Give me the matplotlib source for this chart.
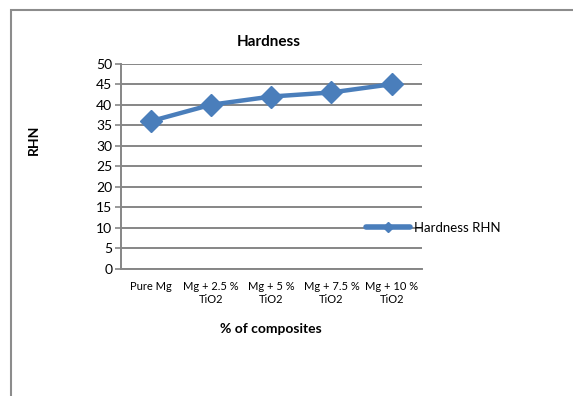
import matplotlib
matplotlib.use("Agg")
import matplotlib.pyplot as plt
from matplotlib.patches import Rectangle

categories = ["Pure Mg", "Mg + 2.5 %\nTiO2", "Mg + 5 %\nTiO2", "Mg + 7.5 %\nTiO2", "Mg + 10 %\nTiO2"]
hardness = [36, 40, 42, 43, 45]
y_ticks = [0, 5, 10, 15, 20, 25, 30, 35, 40, 45, 50]

plt.rcParams['font.family'] = ['Lato', 'DejaVu Sans']

W, H = 573, 396
fig = plt.figure(figsize=(W / 100, H / 100), dpi=100)
fig.patch.set_facecolor("white")

# chart frame
fig.patches.append(Rectangle((11 / W, -0.1), 1.2, 1 - 10 / H + 0.1, transform=fig.transFigure,
                             fill=False, edgecolor="#8c8c8c", linewidth=1.5))

left, right = 120.7 / W, 421.7 / W
bottom, top = 1 - 269 / H, 1 - 63.7 / H
ax = fig.add_axes([left, bottom, right - left, top - bottom])

grid_c = "#868686"
blue = "#4a7ebb"
x = list(range(len(categories)))
ax.plot(x, hardness, color=blue, linewidth=3.2, marker="D", markersize=11,
        markerfacecolor=blue, markeredgecolor=blue, label="Hardness RHN", zorder=3, clip_on=False)

ax.set_xlim(-0.5, len(categories) - 0.5)
ax.set_ylim(0, 50)
ax.set_yticks(y_ticks)
ax.set_yticklabels([str(v) for v in y_ticks], fontsize=10)
ax.set_xticks(x)
ax.set_xticklabels(categories, fontsize=8, linespacing=1.15)
ax.tick_params(axis="x", length=0, pad=9)
ax.tick_params(axis="y", length=4, width=1.2, color=grid_c, pad=2)
ax.yaxis.grid(True, color=grid_c, linewidth=1.4)
ax.set_axisbelow(True)
for s in ["top", "right"]:
    ax.spines[s].set_visible(False)
ax.spines["left"].set_color(grid_c)
ax.spines["left"].set_linewidth(1.4)
ax.spines["bottom"].set_color(grid_c)
ax.spines["bottom"].set_linewidth(1.4)

fig.text(269 / W, 1 - 42 / H, "Hardness", ha="center", va="center", fontsize=11, fontweight="bold")
fig.text(34 / W, 1 - 140 / H, "RHN", ha="center", va="center", rotation=90, fontsize=10, fontweight="bold")
fig.text(271 / W, 1 - 329 / H, "% of composites", ha="center", va="center", fontsize=10, fontweight="bold")

leg = fig.legend(loc="center left", bbox_to_anchor=(366 / W, 1 - 228 / H), frameon=False,
                 fontsize=9.5, handlelength=3.3, handletextpad=0.35, borderpad=0, borderaxespad=0)
for h in leg.legend_handles:
    h.set_markersize(5)
    h.set_linewidth(4)
    h.set_solid_capstyle("round")

fig.savefig("out.png", dpi=100)
